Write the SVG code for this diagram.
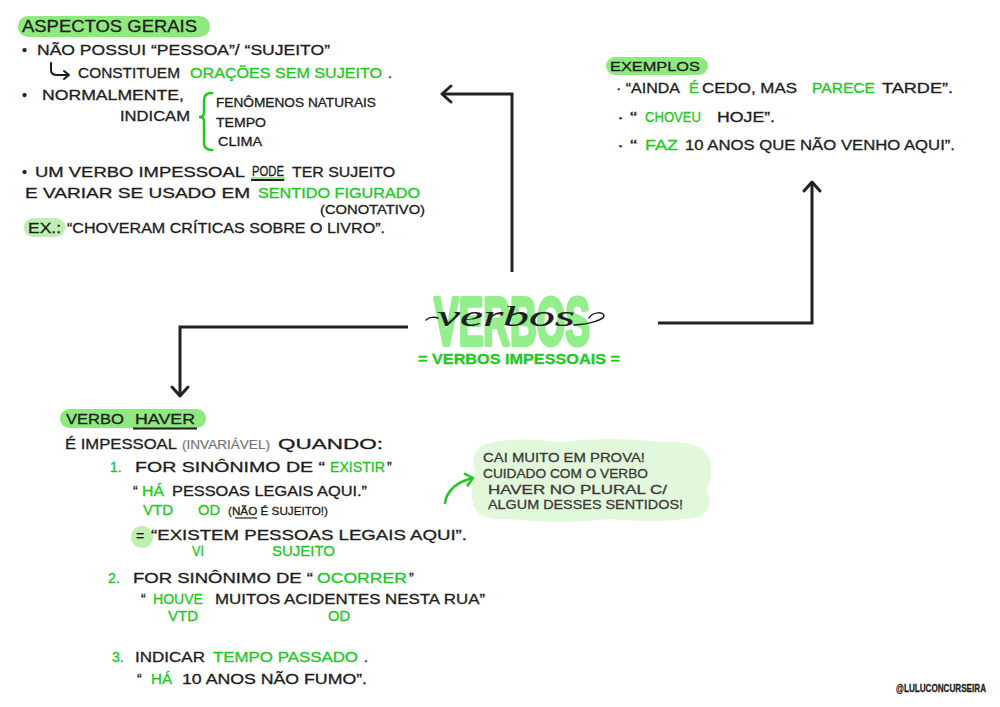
<svg xmlns="http://www.w3.org/2000/svg" width="1000" height="707" viewBox="0 0 1000 707">
<defs>
<style>
text{font-family:"Liberation Sans",Arial,sans-serif;font-size:14px;fill:#1e1e1e;stroke:#1e1e1e;stroke-width:0.3px;}
.g{fill:#22c81f;stroke:#22c81f;}
.s{font-size:12px;}
.xs{font-size:11px;}
.gr{fill:#777;stroke:#777;stroke-width:0.2px;}
.dk{fill:#3a3a3a;stroke:#3a3a3a;font-size:13px;}
.pill{fill:#8fe97f;}
.soft{fill:#bff0b2;}
.ln{fill:none;stroke:#1e1e1e;stroke-width:2;stroke-linecap:round;stroke-linejoin:round;}
.conn{fill:none;stroke:#222;stroke-width:3;}
</style>
<marker id="arr" viewBox="-12 -10 14 20" markerWidth="14" markerHeight="20" refX="0" refY="0" markerUnits="userSpaceOnUse" orient="auto">
<path d="M-9,-8 L0,0 L-9,8" fill="none" stroke="#222" stroke-width="3" stroke-linecap="round" stroke-linejoin="round"/>
</marker>
<marker id="garr" viewBox="-10 -8 12 16" markerWidth="12" markerHeight="16" refX="0" refY="0" markerUnits="userSpaceOnUse" orient="auto">
<path d="M-7,-6 L0,0 L-7,6" fill="none" stroke="#22c81f" stroke-width="2.5" stroke-linecap="round" stroke-linejoin="round"/>
</marker>
</defs>
<rect width="1000" height="707" fill="#ffffff"/>

<g id="connectors">
<path class="conn" d="M512,272 V94 H442" marker-end="url(#arr)"/>
<path class="conn" d="M408,327 H180 V396" marker-end="url(#arr)"/>
<path class="conn" d="M658,323 H812 V182" marker-end="url(#arr)"/>
<path d="M445,503 Q448,484 473,478" fill="none" stroke="#22c81f" stroke-width="2.5" stroke-linecap="round" marker-end="url(#garr)"/>
</g>

<g id="aspectos-gerais">
<rect class="pill" x="18" y="16" width="192" height="21" rx="10"/>
<text x="22" y="32" style="font-size:17px" textLength="175" lengthAdjust="spacingAndGlyphs">ASPECTOS GERAIS</text>
<text x="22" y="55">•</text>
<text x="37" y="55" textLength="293" lengthAdjust="spacingAndGlyphs">NÃO POSSUI “PESSOA”/ “SUJEITO”</text>
<path class="ln" d="M51,63 V70 Q51,75 57,75 H69 M64,71 L69,75 L64,79"/>
<text x="78" y="78" textLength="102" lengthAdjust="spacingAndGlyphs">CONSTITUEM</text>
<text class="g" x="190" y="78" textLength="192" lengthAdjust="spacingAndGlyphs">ORAÇÕES SEM SUJEITO</text>
<text x="388" y="78">.</text>
<text x="22" y="100">•</text>
<text x="42" y="100" textLength="142" lengthAdjust="spacingAndGlyphs">NORMALMENTE,</text>
<text x="120" y="121" textLength="70" lengthAdjust="spacingAndGlyphs">INDICAM</text>
<path d="M212,93 Q204,93 204,100 V113 Q204,117 199,117 Q204,117 204,121 V143 Q204,150 212,150" fill="none" stroke="#22c81f" stroke-width="2.5" stroke-linecap="round"/>
<text class="s" x="216" y="107" textLength="160" lengthAdjust="spacingAndGlyphs">FENÔMENOS NATURAIS</text>
<text class="s" x="216" y="127" textLength="50" lengthAdjust="spacingAndGlyphs">TEMPO</text>
<text class="s" x="218" y="146" textLength="44" lengthAdjust="spacingAndGlyphs">CLIMA</text>
<text x="22" y="177">•</text>
<text x="35" y="177" textLength="210" lengthAdjust="spacingAndGlyphs">UM VERBO IMPESSOAL</text>
<rect x="251" y="177" width="34" height="4" fill="#9cec8e"/>
<line x1="251" y1="180" x2="284" y2="180" stroke="#1e1e1e" stroke-width="2"/>
<text x="252" y="176" textLength="32" lengthAdjust="spacingAndGlyphs">PODE</text>
<text x="292" y="177" textLength="103" lengthAdjust="spacingAndGlyphs">TER SUJEITO</text>
<text x="25" y="198" textLength="225" lengthAdjust="spacingAndGlyphs">E VARIAR SE USADO EM</text>
<text class="g" x="258" y="198" textLength="162" lengthAdjust="spacingAndGlyphs">SENTIDO FIGURADO</text>
<text class="s" x="320" y="214" textLength="105" lengthAdjust="spacingAndGlyphs">(CONOTATIVO)</text>
<rect class="soft" x="24" y="218" width="41" height="19" rx="9"/>
<text x="28" y="233" textLength="33" lengthAdjust="spacingAndGlyphs">EX.:</text>
<text x="67" y="233" textLength="318" lengthAdjust="spacingAndGlyphs">“CHOVERAM CRÍTICAS SOBRE O LIVRO”.</text>
</g>

<g id="exemplos">
<rect class="pill" x="606" y="57" width="102" height="18" rx="9"/>
<text x="610" y="71" style="font-size:13px" textLength="90" lengthAdjust="spacingAndGlyphs">EXEMPLOS</text>
<text x="616" y="93" textLength="64" lengthAdjust="spacingAndGlyphs">· “AINDA</text>
<text class="g" x="689" y="93" textLength="10" lengthAdjust="spacingAndGlyphs">É</text>
<text x="702" y="93" textLength="95" lengthAdjust="spacingAndGlyphs">CEDO, MAS</text>
<text class="g" x="812" y="93" textLength="63" lengthAdjust="spacingAndGlyphs">PARECE</text>
<text x="882" y="93" textLength="71" lengthAdjust="spacingAndGlyphs">TARDE”.</text>
<text x="617" y="122" textLength="20" lengthAdjust="spacingAndGlyphs">· “</text>
<text class="g" x="645" y="122" textLength="56" lengthAdjust="spacingAndGlyphs">CHOVEU</text>
<text x="717" y="122" textLength="58" lengthAdjust="spacingAndGlyphs">HOJE”.</text>
<text x="617" y="150" textLength="20" lengthAdjust="spacingAndGlyphs">· “</text>
<text class="g" x="645" y="150" textLength="33" lengthAdjust="spacingAndGlyphs">FAZ</text>
<text x="685" y="150" textLength="270" lengthAdjust="spacingAndGlyphs">10 ANOS QUE NÃO VENHO AQUI”.</text>
</g>

<g id="verbos">
<text x="434" y="345" style="font-size:68px;font-weight:bold;fill:#93ef8c;stroke:#93ef8c;stroke-width:4px;stroke-linejoin:round" textLength="156" lengthAdjust="spacingAndGlyphs">VERBOS</text>
<text x="437" y="326" style="font-family:'Liberation Serif',serif;font-style:italic;font-size:30px;stroke-width:0.2px" textLength="138" lengthAdjust="spacingAndGlyphs">verbos</text>
<path d="M426,320 Q431,316 438,318 M574,325 C590,324 603,320 604,316 C604,311 592,312 589,318" fill="none" stroke="#1e1e1e" stroke-width="1.5" stroke-linecap="round"/>
<text class="g" x="418" y="364" style="font-size:15px;font-weight:bold" textLength="202" lengthAdjust="spacingAndGlyphs">= VERBOS IMPESSOAIS =</text>
</g>

<g id="verbo-haver">
<rect class="pill" x="60" y="409" width="146" height="19" rx="9.5"/>
<text x="66" y="424" textLength="58" lengthAdjust="spacingAndGlyphs">VERBO</text>
<text x="135" y="424" textLength="60" lengthAdjust="spacingAndGlyphs">HAVER</text>
<line x1="133" y1="428.5" x2="197" y2="428.5" stroke="#1e1e1e" stroke-width="2"/>
<text x="65" y="449" textLength="112" lengthAdjust="spacingAndGlyphs">É IMPESSOAL</text>
<text class="s gr" x="182" y="449" textLength="88" lengthAdjust="spacingAndGlyphs">(INVARIÁVEL)</text>
<text x="278" y="449" textLength="105" lengthAdjust="spacingAndGlyphs">QUANDO:</text>

<text class="g" x="110" y="472">1.</text>
<text x="135" y="472" textLength="190" lengthAdjust="spacingAndGlyphs">FOR SINÔNIMO DE “</text>
<text class="g" x="330" y="472" textLength="55" lengthAdjust="spacingAndGlyphs">EXISTIR</text>
<text x="387" y="472">”</text>
<text x="133" y="496">“</text>
<text class="g" x="142" y="496" textLength="22" lengthAdjust="spacingAndGlyphs">HÁ</text>
<text x="172" y="496" textLength="195" lengthAdjust="spacingAndGlyphs">PESSOAS LEGAIS AQUI.”</text>
<text class="g" x="143" y="515" textLength="30" lengthAdjust="spacingAndGlyphs">VTD</text>
<text class="g" x="198" y="515" textLength="22" lengthAdjust="spacingAndGlyphs">OD</text>
<text class="xs" x="228" y="515" textLength="100" lengthAdjust="spacingAndGlyphs">(NÃO É SUJEITO!)</text>
<line x1="235" y1="518" x2="257" y2="518" stroke="#1e1e1e" stroke-width="1.2"/>
<circle class="soft" cx="142" cy="537" r="11"/>
<text x="136" y="541">=</text>
<text x="151" y="540" textLength="316" lengthAdjust="spacingAndGlyphs">“EXISTEM PESSOAS LEGAIS AQUI”.</text>
<text class="g" x="192" y="556" textLength="12" lengthAdjust="spacingAndGlyphs">VI</text>
<text class="g" x="272" y="556" textLength="63" lengthAdjust="spacingAndGlyphs">SUJEITO</text>

<text class="g" x="108" y="583">2.</text>
<text x="133" y="583" textLength="180" lengthAdjust="spacingAndGlyphs">FOR SINÔNIMO DE “</text>
<text class="g" x="317" y="583" textLength="90" lengthAdjust="spacingAndGlyphs">OCORRER</text>
<text x="409" y="583">”</text>
<text x="141" y="604">“</text>
<text class="g" x="153" y="604" textLength="50" lengthAdjust="spacingAndGlyphs">HOUVE</text>
<text x="215" y="604" textLength="270" lengthAdjust="spacingAndGlyphs">MUITOS ACIDENTES NESTA RUA”</text>
<text class="g" x="168" y="621" textLength="30" lengthAdjust="spacingAndGlyphs">VTD</text>
<text class="g" x="328" y="621" textLength="22" lengthAdjust="spacingAndGlyphs">OD</text>

<text class="g" x="112" y="662">3.</text>
<text x="135" y="662" textLength="70" lengthAdjust="spacingAndGlyphs">INDICAR</text>
<text class="g" x="213" y="662" textLength="145" lengthAdjust="spacingAndGlyphs">TEMPO PASSADO</text>
<text x="364" y="662">.</text>
<text x="137" y="684">“</text>
<text class="g" x="151" y="684" textLength="21" lengthAdjust="spacingAndGlyphs">HÁ</text>
<text x="182" y="684" textLength="185" lengthAdjust="spacingAndGlyphs">10 ANOS NÃO FUMO”.</text>
</g>

<g id="nota">
<path d="M484,444 Q520,436 560,442 Q610,436 660,442 Q700,440 708,456 Q716,474 706,490 Q716,506 700,517 Q660,524 610,519 Q560,525 510,519 Q480,522 474,506 Q468,490 476,474 Q468,454 484,444 Z" fill="#e2f8db"/>
<text class="dk" x="483" y="462" textLength="162" lengthAdjust="spacingAndGlyphs">CAI MUITO EM PROVA!</text>
<text class="dk" x="483" y="478" textLength="165" lengthAdjust="spacingAndGlyphs">CUIDADO COM O VERBO</text>
<text class="dk" x="488" y="494" textLength="179" lengthAdjust="spacingAndGlyphs">HAVER NO PLURAL C/</text>
<text class="dk" x="488" y="509" textLength="195" lengthAdjust="spacingAndGlyphs">ALGUM DESSES SENTIDOS!</text>
</g>

<g id="credito">
<text x="896" y="692" style="font-size:10px;font-weight:bold" textLength="90" lengthAdjust="spacingAndGlyphs">@LULUCONCURSEIRA</text>
</g>
</svg>
